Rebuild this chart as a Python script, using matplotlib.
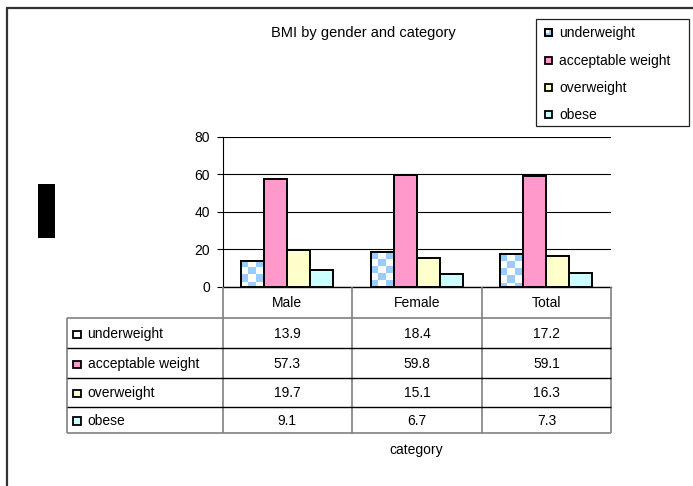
import numpy as np
import matplotlib
matplotlib.use("Agg")
import matplotlib.pyplot as plt
from matplotlib.patches import Rectangle
from matplotlib.lines import Line2D

# Data
categories = ["Male", "Female", "Total"]
series_names = ["underweight", "acceptable weight", "overweight", "obese"]
underweight = [13.9, 18.4, 17.2]
acceptable_weight = [57.3, 59.8, 59.1]
overweight = [19.7, 15.1, 16.3]
obese = [9.1, 6.7, 7.3]
y_ticks = [0, 20, 40, 60, 80]

series_values = [underweight, acceptable_weight, overweight, obese]
face_colors = ["#FFFFFF", "#FF99CC", "#FFFFCC", "#CCFFFF"]
checker_blue = "#99CCFF"

plt.rcParams['font.family'] = ['Liberation Sans', 'DejaVu Sans']
FS = 10

W, H = 693, 486
fig = plt.figure(figsize=(W / 100, H / 100), dpi=100)


def fx(px):
    return px / W


def fy(py):
    return 1 - py / H


def fig_line(x0, y0, x1, y1, color="black", lw=1.0):
    fig.add_artist(Line2D([fx(x0), fx(x1)], [fy(y0), fy(y1)],
                          transform=fig.transFigure, color=color, lw=lw,
                          solid_capstyle="butt"))


def fig_box(x, y, w, h, fc, ec="black", lw=1.0, zorder=3):
    fig.add_artist(Rectangle((fx(x), fy(y + h)), w / W, h / H,
                             transform=fig.transFigure, facecolor=fc,
                             edgecolor=ec, lw=lw, zorder=zorder))


# Chart area frame (left and top edges)
fig_line(7, 8, 7, 490, color="#333333", lw=1.6)
fig_line(6, 8, 700, 8, color="#333333", lw=1.6)

# Plot area
left_px, right_px, top_px, bottom_px = 222.5, 610.7, 136.7, 286.7
ax = fig.add_axes([fx(left_px), fy(bottom_px),
                   (right_px - left_px) / W, (bottom_px - top_px) / H])

x = np.arange(len(categories))
bar_w = 0.178
for i, (vals, fc) in enumerate(zip(series_values, face_colors)):
    bars = ax.bar(x + (i - 1.5) * bar_w, vals, width=bar_w, align="center",
                  facecolor=fc, edgecolor="black", linewidth=1.4, zorder=3)
    if i == 0:
        # checkerboard fill for the underweight bars
        px_per_x = (right_px - left_px) / 3.0
        px_per_y = (bottom_px - top_px) / 80.0
        cell = 7.0
        dx, dy = cell / px_per_x, cell / px_per_y
        for b in bars:
            bx, bw, bh = b.get_x(), b.get_width(), b.get_height()
            nx = int(np.ceil(bw / dx)) + 1
            ny = int(np.ceil(bh / dy)) + 1
            grid = (np.add.outer(np.arange(ny), np.arange(nx)) % 2)
            rgb = np.where(grid[..., None] == 0,
                           np.array(matplotlib.colors.to_rgb(checker_blue)),
                           np.array([1.0, 1.0, 1.0]))
            im = ax.imshow(rgb, extent=[bx, bx + nx * dx, bh - ny * dy, bh],
                           origin="upper", interpolation="nearest",
                           aspect="auto", zorder=3.5)
            im.set_clip_path(b)
            ax.add_patch(Rectangle((bx, 0), bw, bh, facecolor="none",
                                   edgecolor="black", lw=1.4, zorder=4))

ax.set_xlim(-0.5, 2.5)
ax.set_ylim(0, 80)
ax.set_yticks(y_ticks)
ax.set_xticks([])
ax.tick_params(axis="y", direction="out", length=4, width=0.8, pad=5,
               labelsize=FS, colors="black")
for s in ["top", "right"]:
    ax.spines[s].set_visible(False)
ax.spines["left"].set_linewidth(0.8)
ax.spines["bottom"].set_linewidth(1.0)
ax.yaxis.grid(True, color="black", lw=0.8, zorder=0)
ax.set_axisbelow(True)

# Title
fig.text(fx(363), fy(33), "BMI by gender and category", ha="center",
         va="center", fontsize=FS + 0.5)

# Redaction block on the left
fig_box(38.3, 184, 16.7, 53.7, fc="black", ec="black", lw=0)

# Legend
fig_box(536, 19, 153, 107, fc="white", ec="#222222", lw=0.9, zorder=2)
leg_rows = [33, 61, 88, 115]
for name, fc, yy in zip(series_names, face_colors, leg_rows):
    if fc == "#FFFFFF":
        fig_box(545, yy - 3.5, 7, 7, fc=checker_blue, ec="black", lw=1.3)
        fig_box(545, yy - 3.5, 3.5, 3.5, fc="white", ec="none", lw=0, zorder=4)
        fig_box(545, yy - 3.5, 7, 7, fc="none", ec="black", lw=1.3, zorder=5)
    else:
        fig_box(545, yy - 3.5, 7, 7, fc=fc, ec="black", lw=1.3)
    fig.text(fx(559), fy(yy), name, ha="left", va="center", fontsize=FS)

# Data table under the axis
col_edges = [222.7, 351.7, 482.3, 610.7]
row_edges = [286.7, 317.7, 348.3, 377.7, 406.7, 432.7]
tab_left = 66.7
grey = "#808080"

for xe in col_edges:
    fig_line(xe, row_edges[0], xe, row_edges[-1], color=grey, lw=1.2)
fig_line(tab_left, row_edges[1], tab_left, row_edges[-1], color=grey, lw=1.2)
fig_line(tab_left, row_edges[1], col_edges[-1], row_edges[1], color=grey, lw=1.2)
fig_line(tab_left, row_edges[-1], col_edges[-1], row_edges[-1], color=grey, lw=1.2)
for ye in row_edges[2:-1]:
    fig_line(tab_left, ye, col_edges[-1], ye, color="black", lw=1.0)

for j, cat in enumerate(categories):
    cx = (col_edges[j] + col_edges[j + 1]) / 2
    fig.text(fx(cx), fy(302.5), cat, ha="center", va="center", fontsize=FS)

for i, (name, vals, fc) in enumerate(zip(series_names, series_values, face_colors)):
    cy = (row_edges[i + 1] + row_edges[i + 2]) / 2 + 1
    fig_box(73, cy - 3.5, 7.5, 7.5, fc=fc, ec="black", lw=1.3)
    fig.text(fx(87.5), fy(cy), name, ha="left", va="center", fontsize=FS)
    for j, v in enumerate(vals):
        cx = (col_edges[j] + col_edges[j + 1]) / 2
        fig.text(fx(cx), fy(cy), f"{v:.1f}", ha="center", va="center",
                 fontsize=FS)

# Category axis title
fig.text(fx(416), fy(450), "category", ha="center", va="center", fontsize=FS)

fig.savefig("out.png", dpi=100, facecolor="white")
